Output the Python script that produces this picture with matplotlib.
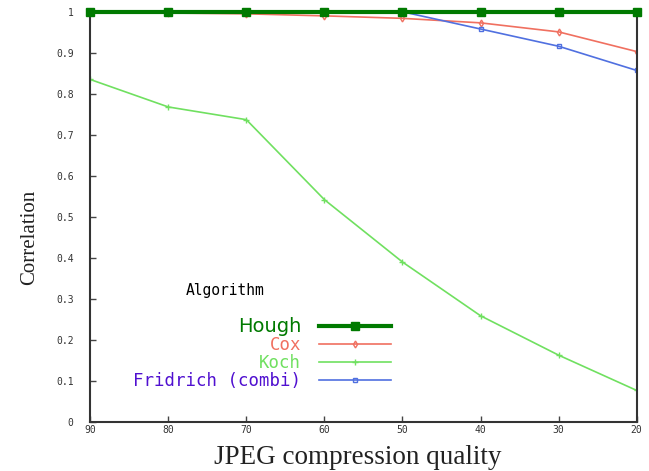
import numpy as np
import matplotlib
matplotlib.use("Agg")
import matplotlib.pyplot as plt

quality = [90, 80, 70, 60, 50, 40, 30, 20]
hough = [1.0, 1.0, 1.0, 1.0, 1.0, 1.0, 1.0, 1.0]
cox = [1.0, 0.997, 0.995, 0.99, 0.984, 0.973, 0.951, 0.903]
koch = [0.835, 0.768, 0.737, 0.542, 0.39, 0.259, 0.163, 0.077]
fridrich = [1.0, 1.0, 1.0, 1.0, 1.0, 0.958, 0.916, 0.857]

xticks = [90, 80, 70, 60, 50, 40, 30, 20]
yticks = [0, 0.1, 0.2, 0.3, 0.4, 0.5, 0.6, 0.7, 0.8, 0.9, 1]
ytick_labels = ["0", "0.1", "0.2", "0.3", "0.4", "0.5", "0.6", "0.7", "0.8", "0.9", "1"]

fig = plt.figure(figsize=(6.49, 4.71), dpi=100)
ax = fig.add_axes([0.139, 0.104, 0.842, 0.871])

ax.plot(quality, cox, color="#f07060", lw=1.2, marker="d", ms=3.5, mfc="none", label="Cox")
ax.plot(quality, koch, color="#70e060", lw=1.2, marker="+", ms=5, label="Koch")
ax.plot(quality, fridrich, color="#5070e0", lw=1.2, marker="s", ms=3.5, mfc="none", label="Fridrich (combi)")
ax.plot(quality, hough, color="#007a00", lw=3, marker="s", ms=6, label="Hough", clip_on=False, zorder=5)

ax.set_xlim(90, 20)
ax.set_ylim(0, 1)
ax.set_xticks(xticks)
ax.set_xticklabels([str(x) for x in xticks], family="DejaVu Sans Mono", fontsize=7, color="#333333")
ax.set_yticks(yticks)
ax.set_yticklabels(ytick_labels, family="DejaVu Sans Mono", fontsize=7, color="#333333")
ax.tick_params(direction="in", length=4, width=1, color="#444444")
ax.tick_params(axis="x", pad=2)
ax.tick_params(axis="y", pad=12)
for s in ax.spines.values():
    s.set_color("#333333")
    s.set_linewidth(1.5)

ax.set_xlabel("JPEG compression quality", family="Liberation Serif", fontsize=19.5, color="#222222")
ax.xaxis.set_label_coords(0.49, -0.055)
ax.set_ylabel("Correlation", family="Liberation Serif", fontsize=15, color="#222222")
ax.yaxis.set_label_coords(-0.093, 0.45)

ax.text(0.175, 0.32, "Algorithm", transform=ax.transAxes, family="DejaVu Sans Mono",
        fontsize=10.5, color="black", ha="left", va="center")

handles, labels = ax.get_legend_handles_labels()
order = [3, 0, 1, 2]
leg = ax.legend([handles[i] for i in order], [labels[i] for i in order],
                markerfirst=False, frameon=False,
                loc="lower left", bbox_to_anchor=(0.05, 0.04),
                handlelength=4.2, labelspacing=0.0, handletextpad=1.0,
                labelcolor=["#007a00", "#f07060", "#70e060", "#5010d0"],
                prop={"family": "DejaVu Sans Mono", "size": 12.5})
leg.get_texts()[0].set_family("DejaVu Sans")
leg.get_texts()[0].set_fontsize(14)

fig.savefig("out.png", dpi=100)
